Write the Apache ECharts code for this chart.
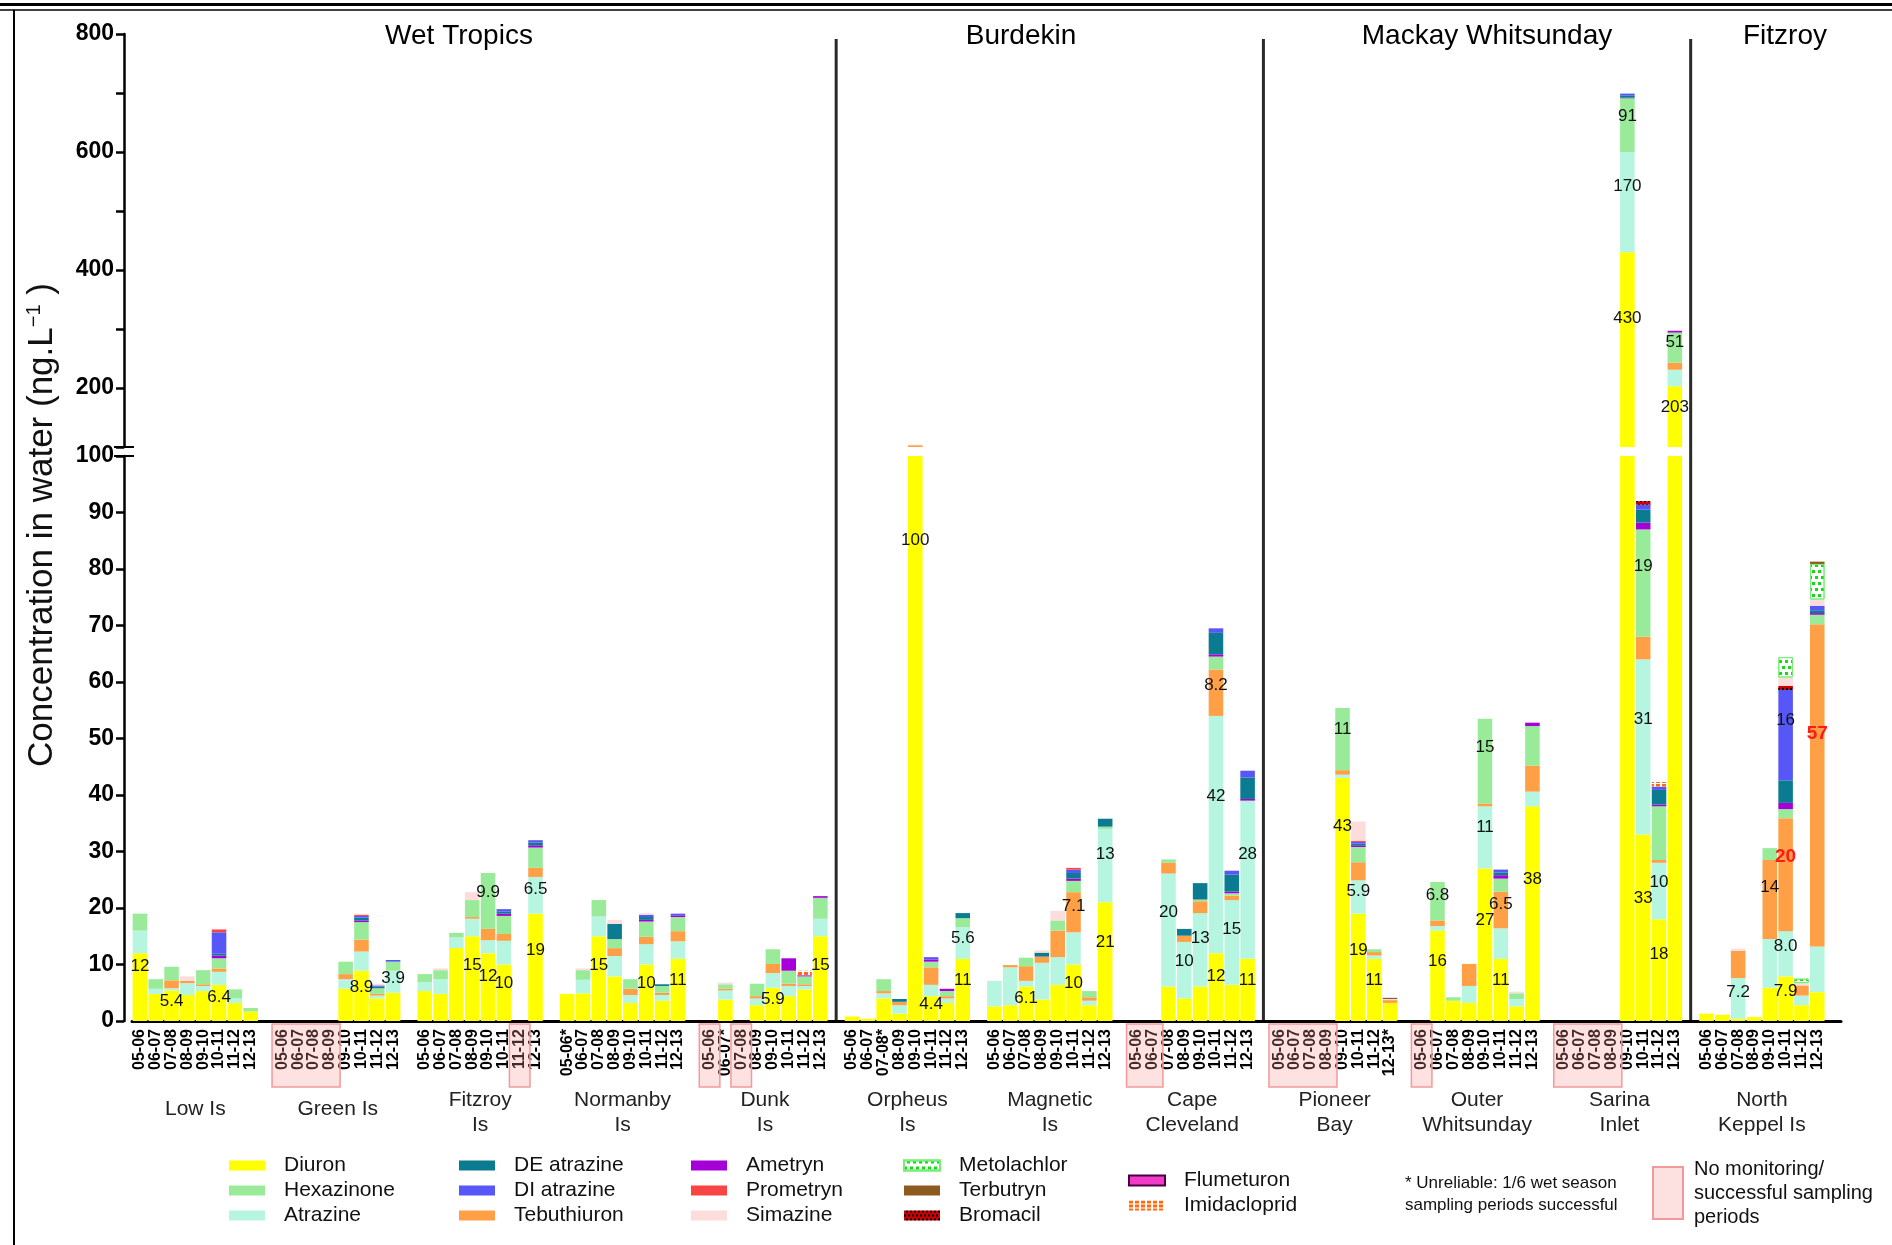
<!DOCTYPE html>
<html>
<head>
<meta charset="utf-8">
<script src="https://cdn.jsdelivr.net/npm/echarts@6/dist/echarts.min.js"></script>
<style>
  html, body { margin: 0; background: #fff; }
  #chart { width: 1892px; height: 1245px; }
</style>
</head>
<body>
<div id="chart"></div>
<script>
// sites along the x axis, 8 wet seasons each
const sites = ['Low Is', 'Green Is', 'Fitzroy Is', 'Normanby Is', 'Dunk Is', 'Orpheus Is',
  'Magnetic Is', 'Cape Cleveland', 'Pioneer Bay', 'Outer Whitsunday', 'Sarina Inlet', 'North Keppel Is']
const siteLabels = ['Low Is', 'Green Is', 'Fitzroy\nIs', 'Normanby\nIs', 'Dunk\nIs', 'Orpheus\nIs',
  'Magnetic\nIs', 'Cape\nCleveland', 'Pioneer\nBay', 'Outer\nWhitsunday', 'Sarina\nInlet', 'North\nKeppel Is']
const years = ['05-06', '06-07', '07-08', '08-09', '09-10', '10-11', '11-12', '12-13']
// [site, year] with unreliable sampling (label gets *)
const starred = [[3, 0], [4, 1], [5, 2], [8, 7]]
// [site, first year, last year] with no monitoring
const noMonitoring = [[1, 0, 3], [2, 6, 6], [4, 0, 0], [4, 2, 2], [7, 0, 1], [8, 0, 3], [9, 0, 0], [10, 0, 3]]
const regions = ['Wet Tropics', 'Burdekin', 'Mackay Whitsunday', 'Fitzroy']
const regionEnds = [4, 7, 10] // divider after these sites

// concentrations, ng/L, 8 values per site in the order of sites
const diuron = [
  12, 4.8, 5.4, 4.6, 5.3, 6.4, 3.2, 1.7,
  0, 0, 0, 0, 5.7, 8.9, 4.0, 5.0,
  5.3, 4.8, 12.9, 15, 12, 10, 0, 19,
  4.8, 4.9, 15, 7.9, 3.2, 10, 3.6, 11,
  0, 3.8, 0, 2.8, 5.9, 4.4, 5.6, 15,
  0.8, 0.4, 4.0, 1.3, 100, 4.4, 3.2, 11,
  2.6, 2.8, 6.1, 3.8, 6.4, 10, 2.8, 21,
  0, 0, 6.1, 4.0, 6.1, 12, 6.4, 11,
  0, 0, 0, 0, 43, 19, 11, 3.2,
  0, 16, 3.6, 3.2, 27, 11, 2.6, 38,
  0, 0, 0, 0, 430, 33, 18, 203,
  1.3, 1.1, 0.4, 0.7, 5.9, 7.9, 2.8, 5.1
]
const atrazine = [
  4.0, 0.9, 0.4, 2.1, 0.9, 2.3, 0.8, 0,
  0, 0, 0, 0, 1.7, 3.4, 0.5, 3.9,
  1.6, 2.6, 1.9, 3.1, 2.3, 4.2, 0, 6.5,
  0, 2.4, 3.5, 3.6, 1.4, 3.6, 1.0, 3.1,
  0, 1.6, 0, 1.2, 2.6, 1.8, 0.6, 3.1,
  0, 0, 0.9, 1.5, 0, 2.0, 0.8, 5.6,
  4.5, 6.7, 1.0, 6.5, 4.9, 5.7, 0.8, 13,
  0, 0, 20, 10, 13, 42, 15, 28,
  0, 0, 0, 0, 0.6, 5.9, 0.6, 0,
  0, 0.8, 0, 3.0, 11, 5.4, 1.3, 2.6,
  0, 0, 0, 0, 170, 31, 10, 28,
  0, 0, 7.2, 0, 8.6, 8.0, 1.7, 8.1
]
const tebuthiuron = [
  0, 0, 1.4, 0.4, 0.3, 0.6, 0, 0,
  0, 0, 0, 0, 0.9, 2.1, 0.3, 0,
  0, 0, 0, 0.3, 2.0, 1.2, 0, 1.6,
  0, 0, 0, 1.4, 1.1, 1.3, 0.4, 1.8,
  0, 0.3, 0, 0.4, 1.6, 0.4, 0.3, 0,
  0, 0, 0.4, 0.6, 3, 3.1, 0.4, 0,
  0, 0.4, 2.6, 1.1, 4.7, 7.1, 0.6, 0,
  0, 0, 1.9, 1.1, 2.1, 8.2, 0.8, 0,
  0, 0, 0, 0, 0.8, 3.2, 0.6, 0.5,
  0, 1.0, 0, 3.9, 0.5, 6.5, 0, 4.6,
  0, 0, 0, 0, 0, 4, 0.5, 12,
  0, 0, 4.8, 0, 14, 20, 1.8, 57
]
const hexazinone = [
  3.0, 1.7, 2.4, 0, 2.5, 1.8, 1.6, 0.6,
  0, 0, 0, 0, 2.2, 3.1, 1.0, 1.6,
  1.4, 1.6, 0.8, 3.0, 9.9, 3.2, 0, 3.6,
  0, 1.7, 2.9, 1.6, 1.7, 2.7, 1.2, 2.5,
  0, 0.8, 0, 2.2, 2.6, 2.3, 1.4, 3.7,
  0, 0, 2.1, 0, 0, 1.0, 0.9, 1.6,
  0, 0, 1.5, 0, 1.8, 2.0, 1.1, 0.4,
  0, 0, 0.6, 0, 0.3, 2.3, 0.4, 0,
  0, 0, 0, 0, 11, 2.7, 0.5, 0,
  0, 6.8, 0.6, 0, 15, 2.3, 1.0, 7.0,
  0, 0, 0, 0, 91, 19, 9.5, 51,
  0, 0, 0, 0, 2.1, 1.6, 0, 1.7
]
const ametryn = [
  0, 0, 0, 0, 0, 0.5, 0, 0,
  0, 0, 0, 0, 0, 0.3, 0, 0,
  0, 0, 0, 0, 0, 0.4, 0, 0.4,
  0, 0, 0, 0, 0, 0.3, 0, 0.3,
  0, 0, 0, 0, 0, 2.2, 0.2, 0.3,
  0, 0, 0, 0, 0, 0.4, 0.4, 0,
  0, 0, 0, 0, 0, 0.4, 0, 0,
  0, 0, 0, 0, 0, 0.4, 0.3, 0.3,
  0, 0, 0, 0, 0, 0.3, 0, 0,
  0, 0, 0, 0, 0, 0.6, 0, 0.6,
  0, 0, 0, 0, 1, 1.2, 0.3, 3,
  0, 0, 0, 0, 0, 1.1, 0, 0.3
]
const deAtrazine = [
  0, 0, 0, 0, 0, 0.3, 0, 0,
  0, 0, 0, 0, 0, 0.5, 0.3, 0,
  0, 0, 0, 0, 0, 0.4, 0, 0.5,
  0, 0, 0, 2.7, 0, 0.5, 0.3, 0,
  0, 0, 0, 0, 0, 0, 0, 0,
  0, 0, 0, 0.5, 0, 0, 0, 0.9,
  0, 0, 0, 0.7, 0, 1.0, 0, 1.4,
  0, 0, 0, 1.2, 2.9, 3.8, 3.0, 3.8,
  0, 0, 0, 0, 0, 0.3, 0, 0,
  0, 0, 0, 0, 0, 0.5, 0, 0,
  0, 0, 0, 0, 4, 2.3, 2.6, 0,
  0, 0, 0, 0, 0, 4.0, 0, 0.5
]
const diAtrazine = [
  0, 0, 0, 0, 0, 3.8, 0, 0,
  0, 0, 0, 0, 0, 0.3, 0.2, 0.3,
  0, 0, 0, 0, 0, 0.4, 0, 0.4,
  0, 0, 0, 0, 0, 0.4, 0, 0.3,
  0, 0, 0, 0, 0, 0, 0, 0,
  0, 0, 0, 0, 0, 0.4, 0, 0,
  0, 0, 0, 0, 0, 0.6, 0, 0,
  0, 0, 0, 0, 0, 0.8, 0.7, 1.2,
  0, 0, 0, 0, 0, 0.3, 0, 0,
  0, 0, 0, 0, 0, 0.5, 0, 0,
  0, 0, 0, 0, 3, 0.9, 0.6, 0,
  0, 0, 0, 0, 0, 16, 0, 0.8
]
const prometryn = [
  0, 0, 0, 0, 0, 0.5, 0, 0,
  0, 0, 0, 0, 0, 0.2, 0, 0,
  0, 0, 0, 0, 0, 0, 0, 0,
  0, 0, 0, 0, 0, 0, 0, 0,
  0, 0, 0, 0, 0, 0, 0, 0,
  0, 0, 0, 0, 0, 0, 0, 0,
  0, 0, 0, 0, 0, 0.3, 0, 0,
  0, 0, 0, 0, 0, 0, 0, 0,
  0, 0, 0, 0, 0, 0.2, 0, 0,
  0, 0, 0, 0, 0, 0, 0, 0,
  0, 0, 0, 0, 0, 0, 0, 0,
  0, 0, 0, 0, 0, 0, 0, 0
]
const bromacil = [
  0, 0, 0, 0, 0, 0, 0, 0,
  0, 0, 0, 0, 0, 0, 0, 0,
  0, 0, 0, 0, 0, 0, 0, 0,
  0, 0, 0, 0, 0, 0, 0, 0,
  0, 0, 0, 0, 0, 0, 0, 0,
  0, 0, 0, 0, 0, 0, 0, 0,
  0, 0, 0, 0, 0, 0, 0, 0,
  0, 0, 0, 0, 0, 0, 0, 0,
  0, 0, 0, 0, 0, 0, 0, 0,
  0, 0, 0, 0, 0, 0, 0, 0,
  0, 0, 0, 0, 0, 0.6, 0, 0,
  0, 0, 0, 0, 0, 0.7, 0, 0
]
const simazine = [
  0, 0, 0, 0.8, 0, 0, 0, 0,
  0, 0, 0, 0, 0, 0, 0.3, 0,
  0, 0.3, 0, 1.4, 0, 0, 0, 0,
  0, 0.3, 0, 0.7, 0, 0.3, 0, 0,
  0, 0.3, 0, 0, 0, 0, 0, 0,
  0, 0, 0, 0, 1, 0, 0, 0,
  0, 0, 0, 0.4, 1.7, 0, 0, 0,
  0, 0, 0, 0, 0, 0, 0, 0,
  0, 0, 0, 0, 0, 3.4, 0, 0.2,
  0, 0, 0, 0, 0, 0, 0.3, 0,
  0, 0, 0, 0, 0, 0, 0, 0,
  0, 0, 0.4, 0, 0, 1.5, 0.4, 1.1
]
const metolachlor = [
  0, 0, 0, 0, 0, 0, 0, 0,
  0, 0, 0, 0, 0, 0, 0, 0,
  0, 0, 0, 0, 0, 0, 0, 0,
  0, 0, 0, 0, 0, 0, 0, 0,
  0, 0, 0, 0, 0, 0, 0, 0,
  0, 0, 0, 0, 0, 0, 0, 0,
  0, 0, 0, 0, 0, 0, 0, 0,
  0, 0, 0, 0, 0, 0, 0, 0,
  0, 0, 0, 0, 0, 0, 0, 0,
  0, 0, 0, 0, 0, 0, 0, 0,
  0, 0, 0, 0, 0, 0, 0, 0,
  0, 0, 0, 0, 0, 3.6, 0.8, 6.3
]
const terbutryn = [
  0, 0, 0, 0, 0, 0, 0, 0,
  0, 0, 0, 0, 0, 0, 0, 0,
  0, 0, 0, 0, 0, 0, 0, 0,
  0, 0, 0, 0, 0, 0, 0, 0,
  0, 0, 0, 0, 0, 0, 0, 0,
  0, 0, 0, 0, 0, 0, 0, 0,
  0, 0, 0, 0, 0, 0, 0, 0,
  0, 0, 0, 0, 0, 0, 0, 0,
  0, 0, 0, 0, 0, 0, 0, 0.2,
  0, 0, 0, 0, 0, 0, 0, 0,
  0, 0, 0, 0, 0, 0, 0, 0,
  0, 0, 0, 0, 0, 0, 0, 0.4
]
const flumeturon = new Array(96).fill(0)
const imidacloprid = [
  0, 0, 0, 0, 0, 0, 0, 0,
  0, 0, 0, 0, 0, 0, 0, 0,
  0, 0, 0, 0, 0, 0, 0, 0,
  0, 0, 0, 0, 0, 0, 0, 0,
  0, 0, 0, 0, 0, 0, 0.8, 0,
  0, 0, 0, 0, 0, 0, 0, 0,
  0, 0, 0, 0, 0, 0, 0, 0,
  0, 0, 0, 0, 0, 0, 0, 0,
  0, 0, 0, 0, 0, 0, 0, 0,
  0, 0, 0, 0, 0, 0, 0, 0,
  0, 0, 0, 0, 0, 0, 0.8, 0,
  0, 0, 0, 0, 0, 0, 0, 0
]

// segments that carry a value label: [chemical, site, year, (optional) height from top]
const labelled = [
  ['Diuron', 0, 0, 0.2], ['Diuron', 0, 2], ['Diuron', 0, 5],
  ['Diuron', 1, 5], ['Atrazine', 1, 7],
  ['Diuron', 2, 3], ['Hexazinone', 2, 4], ['Diuron', 2, 4], ['Diuron', 2, 5], ['Diuron', 2, 7], ['Atrazine', 2, 7],
  ['Diuron', 3, 2], ['Diuron', 3, 5], ['Diuron', 3, 7],
  ['Diuron', 4, 4], ['Diuron', 4, 7],
  ['Diuron', 5, 4, 0.15], ['Diuron', 5, 5], ['Diuron', 5, 7], ['Atrazine', 5, 7],
  ['Diuron', 6, 2], ['Diuron', 6, 5], ['Tebuthiuron', 6, 5], ['Diuron', 6, 7], ['Atrazine', 6, 7],
  ['Atrazine', 7, 2], ['Atrazine', 7, 3], ['Atrazine', 7, 4], ['Diuron', 7, 5], ['Atrazine', 7, 5],
  ['Tebuthiuron', 7, 5], ['Atrazine', 7, 6], ['Diuron', 7, 7], ['Atrazine', 7, 7],
  ['Diuron', 8, 4, 0.2], ['Hexazinone', 8, 4], ['Diuron', 8, 5], ['Atrazine', 8, 5], ['Diuron', 8, 6],
  ['Diuron', 9, 1], ['Hexazinone', 9, 1], ['Diuron', 9, 4], ['Atrazine', 9, 4], ['Hexazinone', 9, 4],
  ['Diuron', 9, 5], ['Tebuthiuron', 9, 5], ['Diuron', 9, 7],
  ['Diuron', 10, 4], ['Atrazine', 10, 4], ['Hexazinone', 10, 4], ['Diuron', 10, 5], ['Atrazine', 10, 5],
  ['Hexazinone', 10, 5], ['Diuron', 10, 6], ['Atrazine', 10, 6], ['Diuron', 10, 7], ['Hexazinone', 10, 7],
  ['Atrazine', 11, 2], ['Tebuthiuron', 11, 4], ['Diuron', 11, 5], ['Atrazine', 11, 5], ['DI atrazine', 11, 5]
]
const redLabelled = [['Tebuthiuron', 11, 5], ['Tebuthiuron', 11, 7]]

const FONT = 'Liberation Sans, Arial, sans-serif'
const checker = (c, s) => ({ symbol: 'rect', symbolSize: 1, color: c, dashArrayX: [[s, s], [0, s, s, 0]], dashArrayY: [s, s] })

// bottom-to-top stacking order
const chemicals = [
  { name: 'Diuron', data: diuron, style: { color: '#FFFF00' } },
  { name: 'Atrazine', data: atrazine, style: { color: '#B6F5E0' } },
  { name: 'Tebuthiuron', data: tebuthiuron, style: { color: '#FFA046' } },
  { name: 'Hexazinone', data: hexazinone, style: { color: '#99EB99' } },
  { name: 'Ametryn', data: ametryn, style: { color: '#A600D9' } },
  { name: 'DE atrazine', data: deAtrazine, style: { color: '#0A7B90' } },
  { name: 'DI atrazine', data: diAtrazine, style: { color: '#5757F7' } },
  { name: 'Prometryn', data: prometryn, style: { color: '#F94444' } },
  { name: 'Bromacil', data: bromacil, style: { color: '#CC0000', decal: checker('#000', 2) } },
  { name: 'Simazine', data: simazine, style: { color: '#FDDCDC' } },
  { name: 'Metolachlor', data: metolachlor, style: { color: '#ffffff', borderColor: '#77EE77', borderWidth: 1, decal: checker('#11DD11', 3) } },
  { name: 'Terbutryn', data: terbutryn, style: { color: '#8C5A1E' } },
  { name: 'Flumeturon', data: flumeturon, style: { color: '#F03CC8', borderColor: '#4A0040', borderWidth: 1 } },
  { name: 'Imidacloprid', data: imidacloprid, style: { color: '#ffffff', decal: { symbol: 'rect', symbolSize: 1, color: '#FF6A10', dashArrayX: [4, 2], dashArrayY: [3, 1] } } }
]

// categories: 8 seasons per site plus one empty slot after each site
const cats = []
const catLabel = {}
sites.forEach((s, si) => {
  years.forEach((y, yi) => {
    const key = si + '|' + yi
    cats.push(key)
    catLabel[key] = y + (starred.some(p => p[0] === si && p[1] === yi) ? '*' : '')
  })
  cats.push('gap' + si)
  catLabel['gap' + si] = ''
})

const fmt = v => (v < 10 ? v.toFixed(1) : String(Math.round(v)))
const topOf = (ci, idx) => chemicals.slice(0, ci + 1).reduce((a, c) => a + c.data[idx], 0)

function seriesFor(g) {
  return chemicals.map((c, ci) => ({
    name: c.name,
    type: 'bar',
    stack: 'g' + g,
    xAxisIndex: g,
    yAxisIndex: g,
    barWidth: '92%',
    itemStyle: c.style,
    emphasis: { disabled: true },
    label: { show: false },
    data: cats.map((cat, k) => {
      const si = Math.floor(k / 9), yi = k % 9
      if (yi === 8) return null
      const idx = si * 8 + yi
      const v = c.data[idx]
      if (!v) return null
      const red = redLabelled.find(l => l[0] === c.name && l[1] === si && l[2] === yi)
      const lab = red || labelled.find(l => l[0] === c.name && l[1] === si && l[2] === yi)
      const inUpper = topOf(ci, idx) > 100
      if (!lab || inUpper !== (g === 0)) return v
      const fromTop = lab[3] !== undefined ? lab[3] : 0.34
      return {
        value: v,
        label: {
          show: true, position: ['50%', (fromTop * 100) + '%'], align: 'center', verticalAlign: 'middle',
          formatter: fmt(v), fontFamily: FONT,
          fontSize: red ? 19 : 17, fontWeight: red ? 'bold' : 'normal', color: red ? '#FF1A1A' : '#111'
        }
      }
    })
  }))
}

const legendCols = [
  ['Diuron', 'Hexazinone', 'Atrazine'],
  ['DE atrazine', 'DI atrazine', 'Tebuthiuron'],
  ['Ametryn', 'Prometryn', 'Simazine'],
  ['Metolachlor', 'Terbutryn', 'Bromacil'],
  ['Flumeturon', 'Imidacloprid']
]
const legendX = [229, 459, 691, 903, 1128]

const axisLine = { show: true, lineStyle: { color: '#000', width: 2.5 } }
const yLabel = { fontSize: 23, fontWeight: 'bold', color: '#000', fontFamily: FONT, margin: 10 }

const chart = echarts.init(document.getElementById('chart'))
chart.setOption({
  animation: false,
  textStyle: { fontFamily: FONT },
  grid: [
    { left: 132, right: 51, top: 34, height: 413, containLabel: false, outerBoundsMode: 'none' },
    { left: 132, right: 51, top: 456, height: 565, containLabel: false, outerBoundsMode: 'none' }
  ],
  xAxis: [
    { type: 'category', gridIndex: 0, data: cats, show: false },
    {
      type: 'category', gridIndex: 1, data: cats,
      axisLine: { lineStyle: { color: '#000', width: 3 } },
      axisTick: { alignWithLabel: true, length: 8, lineStyle: { color: '#000', width: 2.5 }, interval: i => i < cats.length - 1 },
      axisLabel: { interval: 0, rotate: 90, fontSize: 16, fontWeight: 'bold', color: '#000', margin: 8, formatter: v => catLabel[v] }
    }
  ],
  yAxis: [
    {
      type: 'value', gridIndex: 0, min: 100, max: 800, interval: 100, offset: 8,
      axisLine, axisTick: { show: true, length: 8, lineStyle: { color: '#000', width: 2.5 } },
      splitLine: { show: false },
      axisLabel: { ...yLabel, formatter: v => (v > 100 && v % 200 === 0 ? String(v) : '') }
    },
    {
      type: 'value', gridIndex: 1, min: 0, max: 100, interval: 10, offset: 8,
      axisLine, axisTick: { show: true, length: 8, lineStyle: { color: '#000', width: 2.5 } },
      splitLine: { show: false },
      axisLabel: yLabel
    }
  ],
  legend: legendCols.map((col, i) => ({
    data: col, orient: 'vertical', left: legendX[i], top: i === 4 ? 1170 : 1155,
    itemWidth: 36, itemHeight: 10, itemGap: 4, icon: 'rect', selectedMode: false, padding: 0,
    textStyle: { fontSize: 21, color: '#111', lineHeight: 21, padding: [0, 0, 0, 14], fontFamily: FONT }
  })),
  series: [...seriesFor(0), ...seriesFor(1)]
})

// overlays positioned from the axes
const cx = (si, yi) => chart.convertToPixel({ xAxisIndex: 1 }, si * 9 + yi)
const w = cx(0, 1) - cx(0, 0)
const yBase = chart.convertToPixel({ yAxisIndex: 1 }, 0)
const yTopBreak = chart.convertToPixel({ yAxisIndex: 0 }, 100)
const yLowBreak = chart.convertToPixel({ yAxisIndex: 1 }, 100)
const txt = (x, y, text, size, extra) => ({
  type: 'text', x, y, silent: true,
  style: Object.assign({ text, fontSize: size, fontFamily: FONT, fill: '#111', align: 'center', verticalAlign: 'top' }, extra || {})
})

const graphic = []
// frame
graphic.push({ type: 'line', silent: true, shape: { x1: 0, y1: 4.5, x2: 1892, y2: 4.5 }, style: { stroke: '#000', lineWidth: 3 } })
graphic.push({ type: 'line', silent: true, shape: { x1: 0, y1: 10, x2: 1892, y2: 10 }, style: { stroke: '#000', lineWidth: 1.5 } })
graphic.push({ type: 'line', silent: true, shape: { x1: 14, y1: 10, x2: 14, y2: 1245 }, style: { stroke: '#000', lineWidth: 2 } })
// region titles and dividers
const regionX = [459, 1021, 1487, 1785]
regions.forEach((r, i) => graphic.push(txt(regionX[i], 22, r, 28, { fill: '#000' })))
regionEnds.forEach(si => {
  const x = cx(si, 8)
  graphic.push({ type: 'line', silent: true, shape: { x1: x, y1: 39, x2: x, y2: yBase }, style: { stroke: '#2a2a2a', lineWidth: 3 } })
})
// axis break marks
;[yTopBreak, yLowBreak].forEach(y => graphic.push({ type: 'line', silent: true, shape: { x1: 114, y1: y, x2: 134, y2: y }, style: { stroke: '#000', lineWidth: 2 } }))
// y axis name
graphic.push({
  type: 'text', x: 42, y: 525, rotation: Math.PI / 2, silent: true,
  style: {
    text: '{a|Concentration in water (ng.L}{s|−1}{a| )}', align: 'center', verticalAlign: 'middle',
    rich: { a: { fontSize: 35, fontFamily: FONT, fill: '#111' }, s: { fontSize: 20, fontFamily: FONT, fill: '#111', verticalAlign: 'top' } }
  }
})
// site names
sites.forEach((s, si) => {
  const x = (cx(si, 3) + cx(si, 4)) / 2
  const single = siteLabels[si].indexOf('\n') < 0
  graphic.push(txt(x, single ? 1097 : 1088, siteLabels[si], 21, { lineHeight: 25, fill: '#222' }))
})
// no monitoring boxes
noMonitoring.forEach(([si, a, b]) => {
  const x0 = cx(si, a) - 0.65 * w
  const x1 = cx(si, b) + 0.65 * w
  graphic.push({
    type: 'rect', silent: true, z: 10,
    shape: { x: x0, y: yBase + 3, width: x1 - x0, height: 63 },
    style: { fill: 'rgba(250,150,150,0.28)', stroke: '#F29A9A', lineWidth: 1.5 }
  })
})
// notes
graphic.push(txt(1405, 1172, '* Unreliable: 1/6 wet season\nsampling periods successful', 17, { align: 'left', lineHeight: 22 }))
graphic.push({ type: 'rect', silent: true, shape: { x: 1653, y: 1167, width: 30, height: 52 }, style: { fill: '#FDE0E0', stroke: '#F29A9A', lineWidth: 2 } })
graphic.push(txt(1694, 1157, 'No monitoring/\nsuccessful sampling\nperiods', 20, { align: 'left', lineHeight: 24 }))

chart.setOption({ graphic })
</script>
</body>
</html>
